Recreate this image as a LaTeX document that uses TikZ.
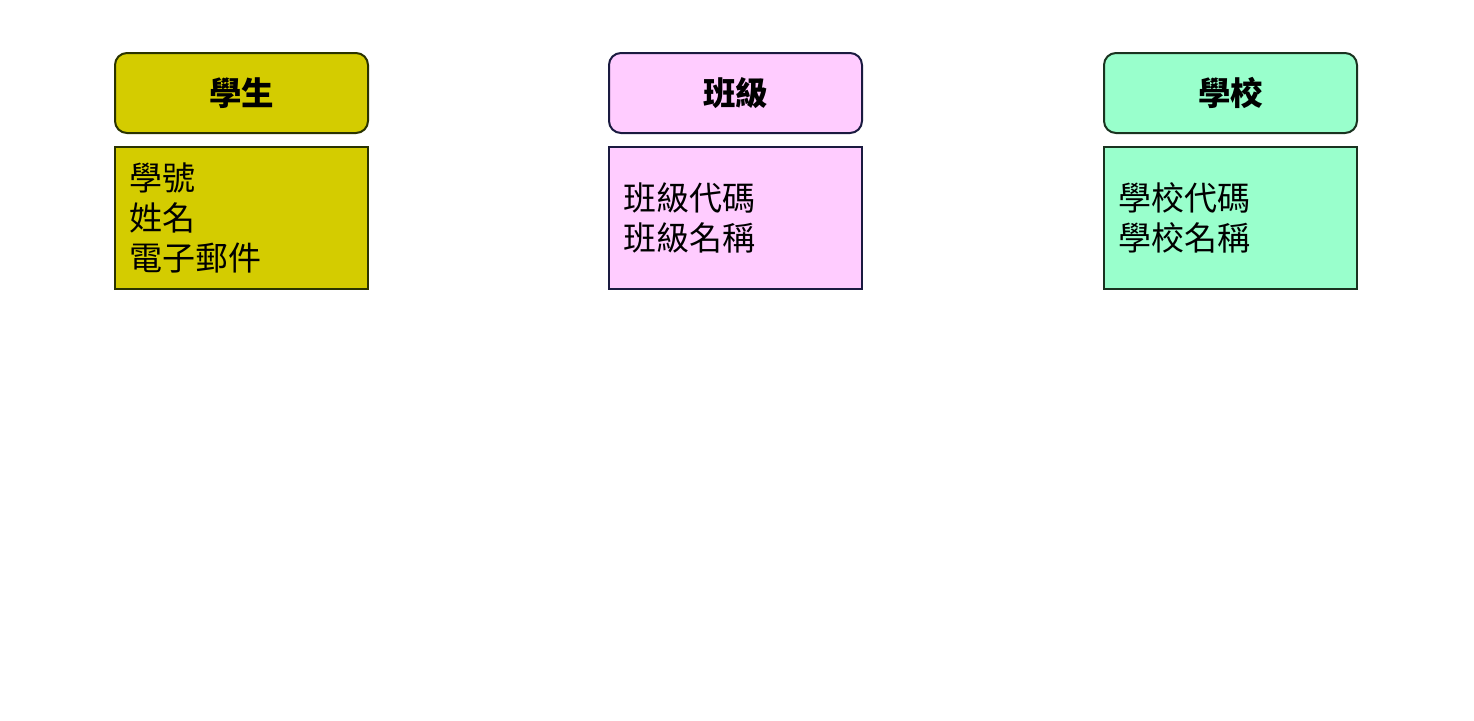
\documentclass[tikz,border=0pt]{standalone}
\usepackage{fontspec}
\setmainfont{Noto Sans CJK TC}
\begin{document}
\begin{tikzpicture}[x=1pt,y=-1pt,
  head/.style={draw=#1, line width=2pt, rounded corners=12pt, minimum width=253pt, minimum height=80pt, inner sep=0pt, font=\fontsize{32.5}{40}\selectfont\bfseries, anchor=north west},
  attr/.style={draw=#1, line width=2pt, minimum width=253pt, minimum height=142pt, text width=225pt, inner xsep=14pt, inner ysep=0pt, align=left, font=\fontsize{33}{40}\selectfont, anchor=north west}]
\useasboundingbox (0,0) rectangle (1474,720);
\definecolor{cyel}{HTML}{D4CC00}
\definecolor{cpink}{HTML}{FFCCFF}
\definecolor{cgreen}{HTML}{99FFCC}
\definecolor{byel}{HTML}{2A3300}
\definecolor{bpink}{HTML}{1A1A40}
\definecolor{bgreen}{HTML}{1A3320}
\node[head=byel, fill=cyel] (sh) at (114,52) {學生};
\node[attr=byel, fill=cyel] (sa) at (114,146) {學號\\姓名\\電子郵件};
\node[head=bpink, fill=cpink] (ch) at (608,52) {班級};
\node[attr=bpink, fill=cpink] (ca) at (608,146) {班級代碼\\班級名稱};
\node[head=bgreen, fill=cgreen] (xh) at (1103,52) {學校};
\node[attr=bgreen, fill=cgreen] (xa) at (1103,146) {學校代碼\\學校名稱};
\end{tikzpicture}
\end{document}
